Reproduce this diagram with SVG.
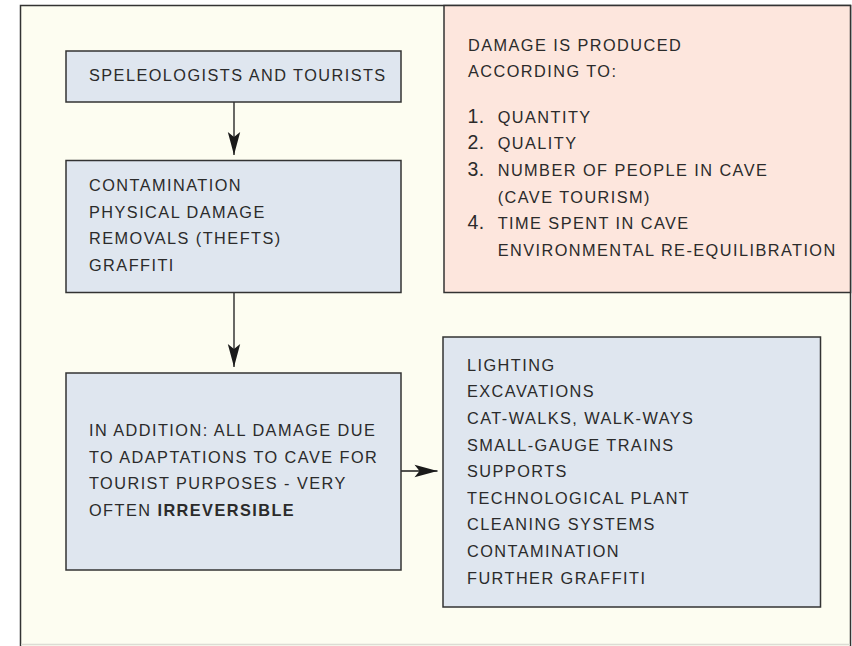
<svg xmlns="http://www.w3.org/2000/svg" width="852" height="646" viewBox="0 0 852 646">
<defs>
<style>
.t{font-family:"Liberation Sans",Arial,sans-serif;font-size:16.3px;letter-spacing:1.45px;fill:#2b2b2b}
.n{font-size:19.5px;letter-spacing:0.5px}
.box{fill:#dfe6ef;stroke:#333;stroke-width:1.5}
.pink{fill:#fde6dd;stroke:#333;stroke-width:1.5}
.c{stroke:#1a1a1a;stroke-width:1.3;fill:none}
</style>
<marker id="ah" markerUnits="userSpaceOnUse" markerWidth="26" markerHeight="14" viewBox="-24 -7 26 14" refX="0" refY="0" orient="auto">
<path d="M0,0 L-23,-6.2 L-18,0 L-23,6.2 Z" fill="#1a1a1a"/>
</marker>
</defs>
<rect x="0" y="0" width="852" height="646" fill="#ffffff"/>
<rect x="20.5" y="5.5" width="830" height="660" fill="#fdfdf1" stroke="#333" stroke-width="1.5"/>
<line x1="21" y1="644.5" x2="850" y2="644.5" stroke="#dcdcd4" stroke-width="1.5"/>
<g id="connectors">
<line class="c" x1="234" y1="102" x2="234" y2="155" marker-end="url(#ah)"/>
<line class="c" x1="234" y1="292" x2="234" y2="367" marker-end="url(#ah)"/>
<line class="c" x1="401" y1="471" x2="437.5" y2="471" marker-end="url(#ah)"/>
</g>
<g id="n1">
<rect class="box" x="66" y="51" width="335" height="51"/>
<text class="t" x="89" y="81">SPELEOLOGISTS AND TOURISTS</text>
</g>
<g id="n2">
<rect class="box" x="66" y="160.5" width="335" height="132"/>
<text class="t" x="89" y="191">CONTAMINATION</text>
<text class="t" x="89" y="217.7">PHYSICAL DAMAGE</text>
<text class="t" x="89" y="244.4">REMOVALS (THEFTS)</text>
<text class="t" x="89" y="271">GRAFFITI</text>
</g>
<g id="n3">
<rect class="box" x="66" y="373" width="335" height="197"/>
<text class="t" x="89" y="436">IN ADDITION: ALL DAMAGE DUE</text>
<text class="t" x="89" y="462.7">TO ADAPTATIONS TO CAVE FOR</text>
<text class="t" x="89" y="489.3">TOURIST PURPOSES - VERY</text>
<text class="t" x="89" y="516">OFTEN <tspan font-weight="bold">IRREVERSIBLE</tspan></text>
</g>
<g id="n4">
<rect class="box" x="443" y="337" width="377.5" height="270"/>
<text class="t" x="467" y="370.7">LIGHTING</text>
<text class="t" x="467" y="397.3">EXCAVATIONS</text>
<text class="t" x="467" y="423.9">CAT-WALKS, WALK-WAYS</text>
<text class="t" x="467" y="450.5">SMALL-GAUGE TRAINS</text>
<text class="t" x="467" y="477.1">SUPPORTS</text>
<text class="t" x="467" y="503.7">TECHNOLOGICAL PLANT</text>
<text class="t" x="467" y="530.3">CLEANING SYSTEMS</text>
<text class="t" x="467" y="556.9">CONTAMINATION</text>
<text class="t" x="467" y="583.5">FURTHER GRAFFITI</text>
</g>
<g id="n5">
<rect class="pink" x="444" y="5.5" width="406.5" height="287"/>
<text class="t" x="468" y="51">DAMAGE IS PRODUCED</text>
<text class="t" x="468" y="77">ACCORDING TO:</text>
<text class="t" y="122.7"><tspan class="n" x="467.5">1.</tspan><tspan x="497.7">QUANTITY</tspan></text>
<text class="t" y="149.3"><tspan class="n" x="467.5">2.</tspan><tspan x="497.7">QUALITY</tspan></text>
<text class="t" y="175.9"><tspan class="n" x="467.5">3.</tspan><tspan x="497.7">NUMBER OF PEOPLE IN CAVE</tspan></text>
<text class="t" x="497.7" y="202.5">(CAVE TOURISM)</text>
<text class="t" y="229.1"><tspan class="n" x="467.5">4.</tspan><tspan x="497.7">TIME SPENT IN CAVE</tspan></text>
<text class="t" x="497.7" y="255.7">ENVIRONMENTAL RE-EQUILIBRATION</text>
</g>
</svg>
